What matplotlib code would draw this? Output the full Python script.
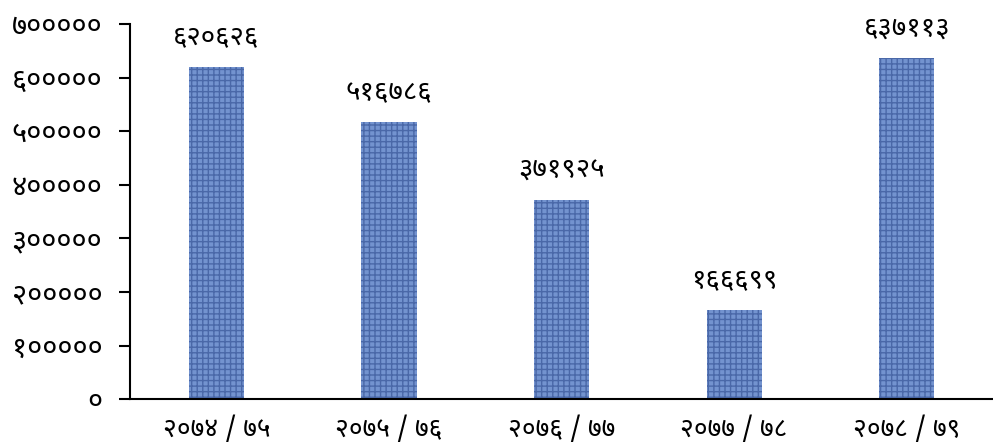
import matplotlib
matplotlib.use("Agg")
import matplotlib.pyplot as plt
from matplotlib import font_manager

# ---------------------------------------------------------------------------
# Data (fiscal years in Nepali calendar, values in Devanagari digits)
# ---------------------------------------------------------------------------
years  = ["२०७४/७५", "२०७५/७६", "२०७६/७७", "२०७७/७८", "२०७८/७९"]
values = [620626, 516786, 371925, 166699, 637113]
yticks = [0, 100000, 200000, 300000, 400000, 500000, 600000, 700000]

DEV = str.maketrans("0123456789", "०१२३४५६७८९")


def to_dev(n):
    return str(n).translate(DEV)


names = {f.name for f in font_manager.fontManager.ttflist}
fams = [f for f in ["Noto Sans Devanagari", "Lohit Devanagari", "Noto Sans", "DejaVu Sans"] if f in names]
plt.rcParams["font.family"] = fams
plt.rcParams["hatch.linewidth"] = 1.0

fig = plt.figure(figsize=(9.93, 4.46), dpi=100)
ax = fig.add_axes([0.131, 0.105, 0.869, 0.841])

x = list(range(len(years)))
bars = ax.bar(x, values, width=0.32, color="#7393cf", edgecolor="#4a68a8",
              hatch="+++", linewidth=0)

for b, v in zip(bars, values):
    ax.annotate(to_dev(v), (b.get_x() + b.get_width() / 2, v),
                xytext=(0, 11), textcoords="offset points",
                ha="center", va="bottom", fontsize=20)

ax.set_xlim(-0.5, len(years) - 0.5)
ax.set_ylim(0, 700000)
ax.set_yticks(yticks)
ax.set_yticklabels([to_dev(t) for t in yticks], fontsize=21)
ax.set_xticks(x)
ax.set_xticklabels([y.replace("/", " / ") for y in years], fontsize=19)
ax.tick_params(axis="y", length=8, width=1.5, pad=12)
ax.tick_params(axis="x", length=0, pad=12)

for s in ["top", "right"]:
    ax.spines[s].set_visible(False)
ax.spines["left"].set_linewidth(1.5)
ax.spines["bottom"].set_linewidth(1.5)

fig.savefig("out.png", dpi=100)
